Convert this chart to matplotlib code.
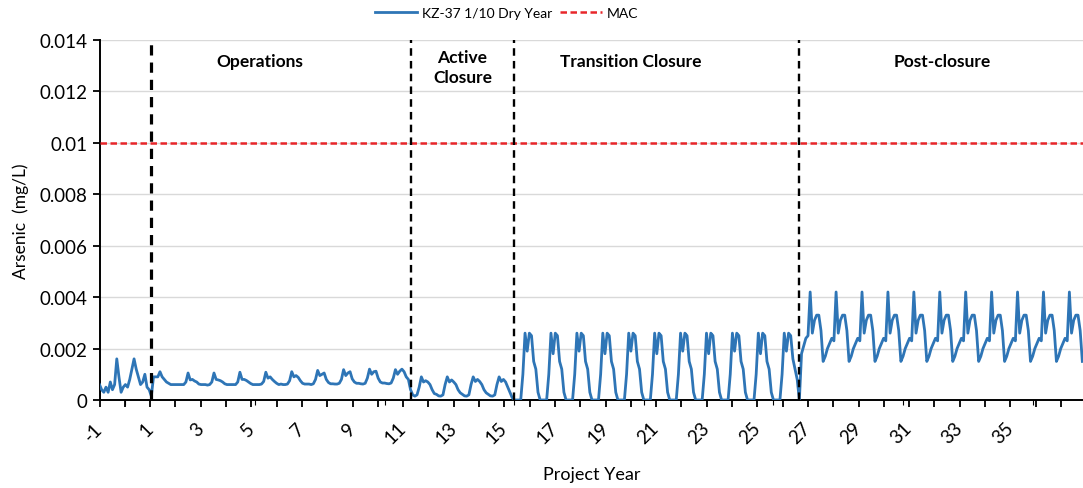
import numpy as np
import matplotlib
matplotlib.use("Agg")
import matplotlib.pyplot as plt
from matplotlib.ticker import MultipleLocator, FuncFormatter

plt.rcParams['font.family'] = ['Lato', 'DejaVu Sans']

# Monthly arsenic concentration (mg/L), one list of 12 months per project year
pre_operations = [  # years -1 and 0
    [0.0006, 0.0004, 0.0003, 0.0005, 0.0003, 0.0007, 0.0004, 0.0006, 0.0016, 0.0009, 0.0003, 0.0005],
    [0.0006, 0.0005, 0.0008, 0.0012, 0.0016, 0.0012, 0.0009, 0.0006, 0.0007, 0.0010, 0.0005, 0.0004],
]
operations = [  # years 1-10
    [0.00015, 0.0009, 0.0009, 0.0009, 0.0011, 0.0009, 0.0008, 0.0007, 0.00065, 0.0006, 0.0006, 0.0006],
    [0.0006, 0.0006, 0.0006, 0.0006, 0.0007, 0.00105, 0.00078, 0.0008, 0.00074, 0.0007, 0.00062, 0.0006],
    [0.0006, 0.0006, 0.00058, 0.0006, 0.0007, 0.00105, 0.0008, 0.00078, 0.00075, 0.0007, 0.00063, 0.0006],
    [0.0006, 0.0006, 0.0006, 0.0006, 0.0007, 0.00108, 0.0008, 0.0008, 0.00076, 0.0007, 0.00064, 0.0006],
    [0.0006, 0.0006, 0.0006, 0.00062, 0.00072, 0.00108, 0.00085, 0.0009, 0.0008, 0.00072, 0.00065, 0.0006],
    [0.00062, 0.0006, 0.0006, 0.00062, 0.00075, 0.0011, 0.0009, 0.00095, 0.00088, 0.00075, 0.00065, 0.00062],
    [0.00062, 0.00062, 0.0006, 0.00063, 0.0008, 0.00115, 0.00095, 0.001, 0.00105, 0.0008, 0.00068, 0.00063],
    [0.00063, 0.00062, 0.00062, 0.00065, 0.0008, 0.00118, 0.00095, 0.00105, 0.0011, 0.00082, 0.0007, 0.00065],
    [0.00065, 0.00063, 0.00062, 0.00065, 0.00085, 0.0012, 0.001, 0.0011, 0.00112, 0.00085, 0.0007, 0.00066],
    [0.00066, 0.00064, 0.00063, 0.00066, 0.00085, 0.00118, 0.001, 0.00112, 0.0012, 0.0011, 0.0009, 0.0008],
]
active_closure = [  # years 11-14
    [0.0004, 0.0002, 0.00015, 0.0002, 0.0005, 0.0009, 0.0007, 0.00075, 0.0007, 0.0006, 0.0004, 0.00025],
    [0.00022, 0.00016, 0.00015, 0.0002, 0.0006, 0.0009, 0.0007, 0.00078, 0.0007, 0.0006, 0.0004, 0.00028],
    [0.00022, 0.00016, 0.00015, 0.0002, 0.0006, 0.0009, 0.00072, 0.0008, 0.00072, 0.0006, 0.0004, 0.00028],
    [0.00022, 0.00016, 0.00015, 0.0002, 0.0006, 0.0009, 0.00072, 0.0008, 0.0007, 0.0005, 0.0003, 0.0001],
]
transition_closure = [  # years 15-25
    [0.0, 0.0, 0.0, 0.0, 0.0010, 0.0026, 0.0019, 0.0026, 0.0025, 0.0015, 0.0012, 0.0003],
    [0.0, 0.0, 0.0, 0.0, 0.0010, 0.0026, 0.0018, 0.0026, 0.0025, 0.0015, 0.0012, 0.0003],
    [0.0, 0.0, 0.0, 0.0, 0.0010, 0.0026, 0.0019, 0.0026, 0.0025, 0.0015, 0.0012, 0.0003],
    [0.0, 0.0, 0.0, 0.0, 0.0010, 0.0026, 0.0018, 0.0026, 0.0025, 0.0015, 0.0012, 0.0003],
    [0.0, 0.0, 0.0, 0.0, 0.0010, 0.0026, 0.0019, 0.0026, 0.0025, 0.0015, 0.0012, 0.0003],
    [0.0, 0.0, 0.0, 0.0, 0.0010, 0.0026, 0.0018, 0.0026, 0.0025, 0.0015, 0.0012, 0.0003],
    [0.0, 0.0, 0.0, 0.0, 0.0010, 0.0026, 0.0019, 0.0026, 0.0025, 0.0015, 0.0012, 0.0003],
    [0.0, 0.0, 0.0, 0.0, 0.0010, 0.0026, 0.0018, 0.0026, 0.0025, 0.0015, 0.0012, 0.0003],
    [0.0, 0.0, 0.0, 0.0, 0.0010, 0.0026, 0.0019, 0.0026, 0.0025, 0.0015, 0.0012, 0.0003],
    [0.0, 0.0, 0.0, 0.0, 0.0010, 0.0026, 0.0018, 0.0026, 0.0025, 0.0015, 0.0012, 0.0003],
    [0.0, 0.0, 0.0, 0.0, 0.0010, 0.0026, 0.0019, 0.0026, 0.0025, 0.0016, 0.0012, 0.0008],
]
post_closure = [  # years 26-36
    [0.0, 0.0018, 0.0021, 0.0024, 0.0025, 0.0042, 0.0026, 0.0031, 0.0033, 0.0033, 0.0027, 0.0015],
    [0.0017, 0.0020, 0.0022, 0.0024, 0.0023, 0.0042, 0.0026, 0.0031, 0.0033, 0.0033, 0.0027, 0.0015],
    [0.0017, 0.0020, 0.0022, 0.0024, 0.0023, 0.0042, 0.0026, 0.0031, 0.0033, 0.0033, 0.0027, 0.0015],
    [0.0017, 0.0020, 0.0022, 0.0024, 0.0023, 0.0042, 0.0026, 0.0031, 0.0033, 0.0033, 0.0027, 0.0015],
    [0.0017, 0.0020, 0.0022, 0.0024, 0.0023, 0.0042, 0.0026, 0.0031, 0.0033, 0.0033, 0.0027, 0.0015],
    [0.0017, 0.0020, 0.0022, 0.0024, 0.0023, 0.0042, 0.0026, 0.0031, 0.0033, 0.0033, 0.0027, 0.0015],
    [0.0017, 0.0020, 0.0022, 0.0024, 0.0023, 0.0042, 0.0026, 0.0031, 0.0033, 0.0033, 0.0027, 0.0015],
    [0.0017, 0.0020, 0.0022, 0.0024, 0.0023, 0.0042, 0.0026, 0.0031, 0.0033, 0.0033, 0.0027, 0.0015],
    [0.0017, 0.0020, 0.0022, 0.0024, 0.0023, 0.0042, 0.0026, 0.0031, 0.0033, 0.0033, 0.0027, 0.0015],
    [0.0017, 0.0020, 0.0022, 0.0024, 0.0023, 0.0042, 0.0026, 0.0031, 0.0033, 0.0033, 0.0027, 0.0015],
    [0.0017, 0.0020, 0.0022, 0.0024, 0.0023, 0.0042, 0.0026, 0.0031, 0.0033, 0.0033, 0.0027, 0.0015],
]
first_year = -1
last_labelled_year = 35
mac_limit = 0.01
phase_boundaries = [1, 11, 15, 26]
phase_labels = ["Operations", "Active\nClosure", "Transition Closure", "Post-closure"]
phase_label_x = [5.2, 13.0, 19.5, 31.5]
series_label = "KZ-37 1/10 Dry Year"
mac_label = "MAC"

# Flatten the yearly lists into one monthly series
yearly = pre_operations + operations + active_closure + transition_closure + post_closure
values = np.concatenate([np.asarray(v, dtype=float) for v in yearly])
n_years = len(yearly)
time = np.array([first_year + y + m / 12.0 for y in range(n_years) for m in range(12)])

W, H = 1083, 489
fig = plt.figure(figsize=(W / 100, H / 100), dpi=100)
x0, x1, y0, y1 = 99.5, 1084.5, 401, 41
ax = fig.add_axes([x0 / W, 1 - y0 / H, (x1 - x0) / W, (y0 - y1) / H])

blue = '#2e75b6'
red = '#e8262a'

ax.plot(time, values, color=blue, lw=2.0, label=series_label, zorder=4)
ax.axhline(mac_limit, color=red, lw=1.8, ls=(0, (2.6, 1.4)), label=mac_label, zorder=3)

for i, b in enumerate(phase_boundaries):
    ax.axvline(b, color='black', lw=2.3 if i == 0 else 1.7, ls=(0, (3.2, 2.2)), zorder=5)

for lbl, xp in zip(phase_labels, phase_label_x):
    ax.text(xp, 0.0132 if "\n" not in lbl else 0.01295, lbl, ha='center', va='center',
            fontsize=12.5, fontweight='bold', linespacing=1.25)

ax.set_xlim(-1, 37)
ax.set_ylim(0, 0.014)
ax.yaxis.set_major_locator(MultipleLocator(0.002))
ax.yaxis.set_major_formatter(FuncFormatter(lambda v, p: '0' if abs(v) < 1e-12 else f'{v:g}'))
ax.tick_params(axis='x', which='both', bottom=False, labelbottom=False)

ax.grid(axis='y', color='#d9d9d9', lw=1.0, zorder=0)
ax.set_axisbelow(True)
for s in ['top', 'right']:
    ax.spines[s].set_visible(False)
for s in ['left', 'bottom']:
    ax.spines[s].set_color('black')
    ax.spines[s].set_linewidth(1.4)
ax.tick_params(axis='y', direction='out', length=5, width=1.3, colors='black', labelsize=13.5)
ax.set_ylabel("Arsenic  (mg/L)", fontsize=12.5, labelpad=8)

# Year category axis along the bottom, with its own (slightly tighter) spacing
year_ax = ax.twiny()
year_ax.set_xlim(-1, 37.93)
for s in year_ax.spines.values():
    s.set_visible(False)
year_ax.xaxis.set_ticks_position('bottom')
year_ax.xaxis.set_label_position('bottom')
year_ax.xaxis.set_major_locator(MultipleLocator(1))


def year_label(v, pos):
    y = int(round(v))
    return str(y) if (y % 2 != 0 and y <= last_labelled_year) else ''


year_ax.xaxis.set_major_formatter(FuncFormatter(year_label))
year_ax.tick_params(axis='x', direction='out', length=5, width=1.3, colors='black',
                    labelsize=13.5, pad=13)
for lab in year_ax.get_xticklabels():
    lab.set_rotation(45)
    lab.set_ha('right')
    lab.set_rotation_mode('anchor')
    lab.set_va('center')
year_ax.set_xlabel("Project Year", fontsize=13, labelpad=14)

fig.legend(handles=ax.get_lines()[:2], loc='upper center', bbox_to_anchor=(0.468, 1.01), ncol=2,
           frameon=False, fontsize=10.0, handlelength=3.0, columnspacing=0.6, handletextpad=0.35)

fig.savefig("out.png", dpi=100)
